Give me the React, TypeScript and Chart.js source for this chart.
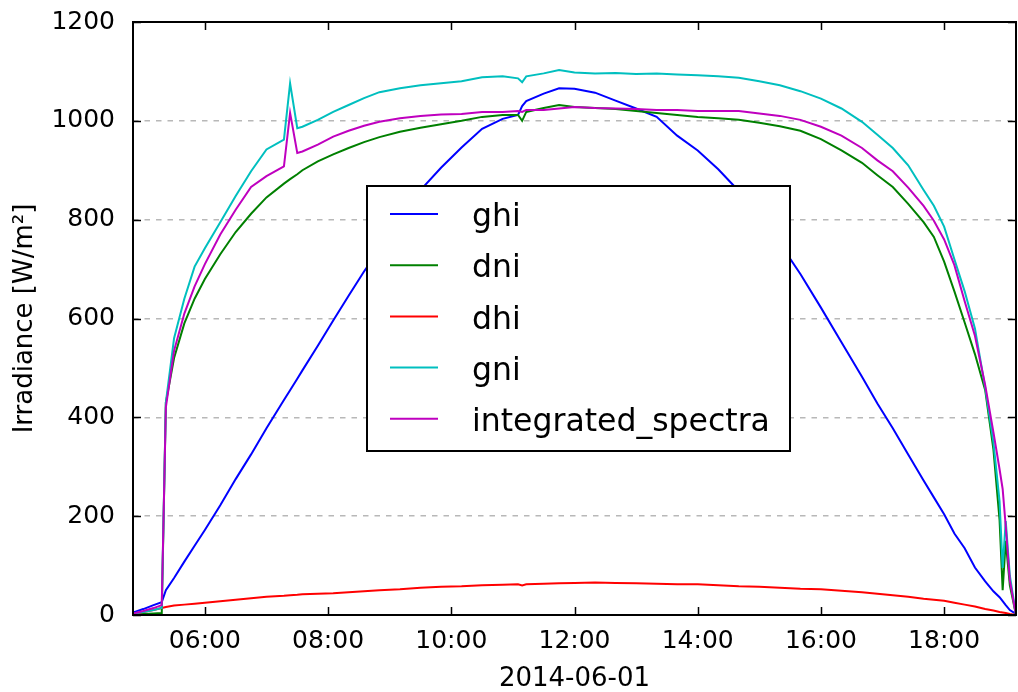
import React, { useEffect, useRef } from 'react';
import { Chart, registerables } from 'chart.js';

Chart.register(...registerables);

// minutes since midnight, 2014-06-01
const TIMES = [290, 300, 310, 318, 322, 330, 340, 350, 360, 375, 390, 405, 420, 437, 443, 450, 455, 470, 485, 500, 515, 530, 550, 570, 590, 610, 630, 650, 665, 669, 673, 690, 705, 720, 740, 760, 780, 800, 820, 840, 860, 880, 900, 920, 940, 960, 980, 1000, 1015, 1030, 1045, 1060, 1070, 1080, 1090, 1100, 1110, 1120, 1128, 1134, 1137, 1140, 1144, 1150];

const GHI = [5, 12, 20, 26, 50, 75, 108, 140, 172, 222, 275, 325, 378, 435, 455, 478, 495, 545, 596, 646, 695, 740, 800, 860, 905, 946, 984, 1004, 1012, 1030, 1040, 1055, 1066, 1065, 1057, 1041, 1025, 1008, 970, 940, 902, 858, 808, 752, 690, 622, 552, 482, 428, 378, 325, 272, 238, 204, 165, 135, 96, 68, 48, 36, 28, 20, 10, 2];

const DNI = [2, 2, 3, 4, 430, 520, 590, 640, 680, 730, 775, 812, 845, 873, 882, 892, 900, 918, 932, 945, 957, 967, 978, 986, 993, 1000, 1008, 1012, 1012, 1000, 1018, 1026, 1032, 1028, 1026, 1024, 1020, 1016, 1012, 1008, 1005, 1002, 996, 989, 980, 963, 940, 915, 890, 866, 832, 795, 765, 715, 655, 592, 528, 455, 335, 192, 50, 150, 60, 0];

const DHI = [2, 6, 10, 14, 16, 19, 21, 23, 25, 28, 31, 34, 37, 39, 40, 41, 42, 43, 44, 46, 48, 50, 52, 55, 57, 58, 60, 61, 62, 60, 62, 63, 64, 65, 66, 65, 64, 63, 62, 62, 60, 58, 57, 55, 53, 52, 49, 46, 43, 40, 37, 33, 31, 29, 25, 21, 17, 12, 9, 6, 5, 4, 2, 0];

const GNI = [3, 6, 10, 14, 430, 560, 640, 705, 742, 795, 848, 898, 942, 962, 1076, 985, 988, 1002, 1018, 1032, 1046, 1058, 1066, 1072, 1076, 1080, 1088, 1090, 1086, 1078, 1090, 1096, 1103, 1098, 1096, 1097, 1095, 1096, 1094, 1092, 1090, 1087, 1080, 1072, 1060, 1045, 1025, 998, 972, 945, 910, 860, 828, 786, 720, 655, 580, 460, 350, 230, 95, 190, 80, 0];

const INTEGRATED = [3, 8, 14, 20, 420, 535, 610, 665, 710, 770, 820, 866, 888, 908, 1016, 935, 938, 952, 968, 980, 990, 998, 1005, 1010, 1013, 1014, 1018, 1018, 1020, 1018, 1022, 1022, 1025, 1028, 1026, 1025, 1024, 1022, 1022, 1020, 1020, 1020, 1015, 1010, 1002, 988, 970, 945, 920, 898, 865, 828, 798, 760, 708, 635, 565, 465, 370, 295, 255, 180, 70, 0];

const SERIES_LABELS = ['ghi', 'dni', 'dhi', 'gni', 'integrated_spectra'];
const SERIES_COLORS = ['#0000ff', '#008000', '#ff0000', '#00bfbf', '#bf00bf'];
const X_TICKS = [360, 480, 600, 720, 840, 960, 1080];
const Y_TICKS = [0, 200, 400, 600, 800, 1000, 1200];
const X_MIN = 290;
const X_MAX = 1150;
const X_TITLE = '2014-06-01';
const Y_TITLE = 'Irradiance [W/m\u00b2]';

const FONT = "'DejaVu Sans', 'Liberation Sans', sans-serif";

const fmtTime = (v: number) => {
  const h = Math.floor(v / 60);
  const m = Math.round(v - h * 60);
  return String(h).padStart(2, '0') + ':' + String(m).padStart(2, '0');
};

const framePlugin = {
  id: 'mplFrame',
  afterDraw(chart: any) {
    const { ctx, chartArea: a, scales } = chart;
    ctx.save();
    // inward ticks
    ctx.strokeStyle = '#000';
    ctx.lineWidth = 1.5;
    const tl = 8;
    ctx.beginPath();
    scales.x.ticks.forEach((t: any) => {
      const px = Math.round(scales.x.getPixelForValue(t.value)) + 0.5;
      ctx.moveTo(px, a.bottom);
      ctx.lineTo(px, a.bottom - tl);
      ctx.moveTo(px, a.top);
      ctx.lineTo(px, a.top + tl);
    });
    scales.y.ticks.forEach((t: any) => {
      const py = Math.round(scales.y.getPixelForValue(t.value)) + 0.5;
      ctx.moveTo(a.left, py);
      ctx.lineTo(a.left + tl, py);
      ctx.moveTo(a.right, py);
      ctx.lineTo(a.right - tl, py);
    });
    ctx.stroke();
    // frame
    ctx.lineWidth = 2;
    ctx.strokeRect(a.left, a.top, a.right - a.left, a.bottom - a.top);

    // legend
    const lx = a.left + 234;
    const ly = a.top + 164;
    const lw = 423;
    const lh = 265;
    ctx.fillStyle = '#fff';
    ctx.fillRect(lx, ly, lw, lh);
    ctx.lineWidth = 2;
    ctx.strokeStyle = '#000';
    ctx.strokeRect(lx, ly, lw, lh);
    ctx.font = `31.5px ${FONT}`;
    ctx.textBaseline = 'middle';
    ctx.textAlign = 'left';
    chart.data.datasets.forEach((ds: any, i: number) => {
      const ry = ly + 28 + i * 51.2;
      ctx.strokeStyle = ds.borderColor;
      ctx.lineWidth = 2;
      ctx.beginPath();
      ctx.moveTo(lx + 23, ry);
      ctx.lineTo(lx + 71, ry);
      ctx.stroke();
      ctx.fillStyle = '#000';
      ctx.fillText(ds.label, lx + 105, ry + 4);
    });
    ctx.restore();
  },
};

export default function App() {
  const ref = useRef<HTMLCanvasElement>(null);
  useEffect(() => {
    const series = [GHI, DNI, DHI, GNI, INTEGRATED];
    const chart = new Chart(ref.current as HTMLCanvasElement, {
      type: 'line',
      data: {
        datasets: series.map((s, i) => ({
          label: SERIES_LABELS[i],
          data: TIMES.map((t, j) => ({ x: t, y: s[j] })),
          borderColor: SERIES_COLORS[i],
          backgroundColor: SERIES_COLORS[i],
          borderWidth: 2,
          pointRadius: 0,
          tension: 0,
          fill: false,
          order: series.length - 1 - i,
        })),
      },
      options: {
        animation: false,
        responsive: false,
        devicePixelRatio: 1,
        layout: { padding: { top: 22, right: 2, left: 0, bottom: 0 } },
        plugins: { legend: { display: false }, tooltip: { enabled: false } },
        scales: {
          x: {
            type: 'linear',
            min: X_MIN,
            max: X_MAX,
            afterBuildTicks: (s: any) => {
              s.ticks = X_TICKS.map((v) => ({ value: v }));
            },
            afterFit: (s: any) => {
              s.height = 77;
              s.paddingLeft = 0;
              s.paddingRight = 0;
            },
            grid: { display: false, drawTicks: false },
            border: { display: false },
            ticks: {
              padding: 11,
              color: '#000',
              maxRotation: 0,
              autoSkip: false,
              font: { family: FONT, size: 25 },
              callback: (v: any) => fmtTime(Number(v)),
            },
            title: {
              display: true,
              text: X_TITLE,
              color: '#000',
              font: { family: FONT, size: 26, lineHeight: 1 },
              padding: { top: 0, bottom: 0 },
            },
          },
          y: {
            min: 0,
            max: 1200,
            afterBuildTicks: (s: any) => {
              s.ticks = Y_TICKS.map((v) => ({ value: v }));
            },
            afterFit: (s: any) => {
              s.width = 133;
              s.paddingTop = 0;
              s.paddingBottom = 0;
            },
            grid: { color: '#b8b8b8', lineWidth: 1.5, drawTicks: false },
            border: { display: false, dash: [5.5, 6] },
            ticks: {
              padding: 18,
              color: '#000',
              font: { family: FONT, size: 25 },
              callback: (v: any) => String(v),
            },
            title: {
              display: true,
              text: Y_TITLE,
              color: '#000',
              font: { family: FONT, size: 26, lineHeight: 1 },
              padding: { top: 12, bottom: 0 },
            },
          },
        },
      } as any,
      plugins: [framePlugin],
    });
    return () => chart.destroy();
  }, []);
  return (
    <div style={{ position: 'absolute', left: 0, top: 0, width: 1018, height: 692, background: '#fff' }}>
      <canvas ref={ref} width={1018} height={692} style={{ display: 'block', width: 1018, height: 692 }} />
    </div>
  );
}
